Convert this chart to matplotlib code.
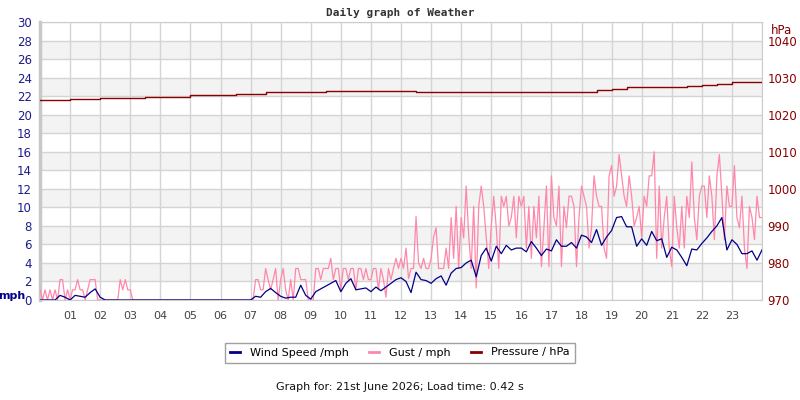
"""Daily weather graph: wind speed, gust and pressure over one day."""
import matplotlib

matplotlib.use("Agg")
import matplotlib.pyplot as plt
import numpy as np
from matplotlib.lines import Line2D

# wind sampled every 10 minutes, 00:00 .. 24:00 (145 values)
WIND_MPH = [
    0.0, 0.0, 0.0, 0.0, 0.5, 0.3,
    0.0, 0.5, 0.4, 0.3, 0.8, 1.2,
    0.3, 0.0, 0.0, 0.0, 0.0, 0.0,
    0.0, 0.0, 0.0, 0.0, 0.0, 0.0,
    0.0, 0.0, 0.0, 0.0, 0.0, 0.0,
    0.0, 0.0, 0.0, 0.0, 0.0, 0.0,
    0.0, 0.0, 0.0, 0.0, 0.0, 0.0,
    0.0, 0.4, 0.3, 0.9, 1.25, 0.8,
    0.4, 0.2, 0.3, 0.3, 1.6, 0.5,
    0.1, 0.9, 1.2, 1.5, 1.8, 2.1,
    0.9, 1.8, 2.3, 1.1, 1.2, 1.3,
    0.9, 1.4, 1.0, 1.4, 1.8, 2.2,
    2.4, 2.0, 0.8, 3.0, 2.2, 2.1,
    1.8, 2.3, 2.6, 1.6, 2.9, 3.4,
    3.5, 4.0, 4.3, 2.5, 4.8, 5.6,
    4.2, 5.8, 5.0, 5.9, 5.4, 5.6,
    5.6, 5.2, 6.3, 5.6, 4.8, 5.5,
    5.3, 6.5, 5.8, 5.8, 6.2, 5.6,
    7.0, 6.8, 6.2, 7.6, 5.9, 6.8,
    7.5, 8.9, 9.0, 7.9, 7.9, 5.8,
    6.6, 5.9, 7.4, 6.4, 6.6, 4.6,
    5.7, 5.4, 4.6, 3.7, 5.5, 5.4,
    6.1, 6.7, 7.4, 8.0, 8.9, 5.4,
    6.5, 6.0, 5.0, 5.0, 5.3, 4.3,
    5.4,
]

# gust sampled every 5 minutes, 00:00 .. 24:00 (289 values)
GUST_MPH = [
    1.1, 0.0, 1.1, 0.0, 1.1, 0.0, 1.1, 0.0, 2.2, 2.2, 0.0, 1.1,
    0.0, 1.1, 1.1, 2.2, 1.1, 1.1, 0.0, 1.1, 2.2, 2.2, 2.2, 0.0,
    0.0, 0.0, 0.0, 0.0, 0.0, 0.0, 0.0, 0.0, 2.2, 1.1, 2.2, 1.1,
    1.1, 0.0, 0.0, 0.0, 0.0, 0.0, 0.0, 0.0, 0.0, 0.0, 0.0, 0.0,
    0.0, 0.0, 0.0, 0.0, 0.0, 0.0, 0.0, 0.0, 0.0, 0.0, 0.0, 0.0,
    0.0, 0.0, 0.0, 0.0, 0.0, 0.0, 0.0, 0.0, 0.0, 0.0, 0.0, 0.0,
    0.0, 0.0, 0.0, 0.0, 0.0, 0.0, 0.0, 0.0, 0.0, 0.0, 0.0, 0.0,
    0.0, 0.0, 2.2, 2.2, 1.1, 1.1, 3.4, 2.2, 1.1, 2.2, 3.4, 0.0,
    2.2, 3.4, 1.1, 0.0, 2.2, 0.0, 3.4, 3.4, 2.2, 2.2, 2.2, 0.0,
    0.0, 0.0, 3.4, 3.4, 2.2, 3.4, 3.4, 3.4, 4.5, 2.2, 3.4, 3.4,
    1.1, 3.4, 3.4, 2.2, 3.4, 3.4, 1.1, 3.4, 3.4, 2.2, 3.4, 2.2,
    2.2, 3.4, 3.4, 1.1, 3.4, 2.2, 0.3, 3.4, 2.2, 3.4, 4.5, 3.4,
    4.5, 3.4, 5.6, 2.3, 3.4, 3.4, 9.0, 4.0, 3.4, 4.5, 3.4, 3.4,
    4.5, 6.8, 7.8, 3.4, 3.4, 3.4, 5.6, 3.4, 8.9, 4.5, 10.1, 3.4,
    8.9, 6.7, 12.3, 7.0, 3.4, 10.1, 1.3, 10.1, 12.3, 10.1, 6.7, 3.4,
    8.0, 11.2, 7.8, 3.4, 11.2, 10.1, 11.2, 8.0, 8.9, 11.2, 6.7, 11.2,
    10.1, 11.2, 5.6, 10.1, 4.5, 10.1, 6.7, 11.2, 3.6, 7.8, 12.3, 3.6,
    13.4, 8.9, 8.0, 12.3, 3.6, 10.1, 7.8, 11.2, 11.2, 10.1, 3.6, 8.9,
    12.3, 11.2, 10.1, 5.6, 7.8, 13.4, 11.2, 10.1, 10.1, 5.6, 4.5, 13.4,
    14.5, 11.2, 12.3, 15.7, 13.4, 11.2, 10.1, 13.4, 11.2, 8.0, 8.9, 10.1,
    6.8, 11.2, 10.1, 13.4, 13.4, 16.0, 4.5, 12.3, 5.6, 8.9, 11.2, 5.6,
    3.6, 11.2, 7.8, 5.6, 10.1, 5.6, 11.2, 8.9, 14.9, 8.9, 6.5, 11.2,
    12.3, 12.3, 8.9, 13.4, 11.2, 6.5, 13.4, 15.7, 11.2, 6.5, 12.3, 10.1,
    10.1, 14.5, 8.9, 7.8, 11.2, 5.6, 3.4, 10.1, 8.9, 6.5, 11.2, 8.9,
    8.9,
]

# pressure sampled every 30 minutes (49 values)
PRESSURE_HPA = [
    1023.9, 1023.9, 1024.2, 1024.1, 1024.4, 1024.4,
    1024.4, 1024.7, 1024.7, 1024.9, 1025.2, 1025.2,
    1025.4, 1025.7, 1025.7, 1026.0, 1026.0, 1026.0,
    1026.0, 1026.4, 1026.4, 1026.4, 1026.4, 1026.4,
    1026.4, 1026.2, 1026.2, 1026.2, 1026.2, 1026.2,
    1026.2, 1026.2, 1026.2, 1026.2, 1026.2, 1026.2,
    1026.2, 1026.6, 1026.9, 1027.4, 1027.4, 1027.4,
    1027.4, 1027.6, 1028.1, 1028.4, 1028.8, 1028.8,
    1028.8,
]

HOUR_LABELS = [f"{h:02d}" for h in range(1, 24)]
TITLE = "Daily graph of Weather"
FOOTER = "Graph for: 21st June 2026; Load time: 0.42 s"

WIND_COLOR = "#000088"
GUST_COLOR = "#ff88aa"
PRESS_COLOR = "#880000"
LEFT_TICK_COLOR = "#1c1c8c"


def main() -> None:
    wind_t = np.linspace(0, 24, len(WIND_MPH))
    gust_t = np.linspace(0, 24, len(GUST_MPH))
    press_t = np.linspace(0, 24, len(PRESSURE_HPA))

    fig = plt.figure(figsize=(8, 4), dpi=100)
    ax = fig.add_axes([0.05, 0.25, 0.9025, 0.695])
    ax2 = ax.twinx()

    # alternating bands
    for lo in range(2, 30, 4):
        ax.axhspan(lo, lo + 2, color="#f3f3f3", zorder=0, lw=0)
    ax.set_xlim(0, 24)
    ax.set_ylim(0, 30)
    ax.set_xticks(range(1, 24))
    ax.set_xticklabels(HOUR_LABELS)
    ax.set_xticks(range(0, 25), minor=True)
    ax.set_yticks(range(0, 31, 2))
    ax.grid(True, which="both", color="#d4d4d4", lw=1, zorder=1)
    ax.tick_params(axis="x", which="both", length=0, labelsize=8, colors="#444444", pad=8)
    ax.tick_params(axis="y", length=0, labelsize=8.5, colors=LEFT_TICK_COLOR, pad=6)
    for s in ["top", "right", "bottom"]:
        ax.spines[s].set_color("#cccccc")
    ax.spines["left"].set_color("#c8c8c8")
    ax.spines["left"].set_linewidth(2.5)

    ax.plot(gust_t, GUST_MPH, color=GUST_COLOR, lw=0.9, zorder=3)
    ax.plot(wind_t, WIND_MPH, color=WIND_COLOR, lw=0.9, zorder=4)

    ax2.set_ylim(970, 1045)
    ax2.set_yticks(range(970, 1041, 10))
    ax2.tick_params(axis="y", length=0, labelsize=8.5, colors=PRESS_COLOR, pad=4)
    for s in ax2.spines.values():
        s.set_visible(False)
    ax2.plot(press_t, PRESSURE_HPA, color=PRESS_COLOR, lw=1.0, drawstyle="steps-post", zorder=5)

    fig.text(0.5, 1 - 13 / 400, TITLE, ha="center", va="center",
             family="DejaVu Sans Mono", weight="bold", fontsize=8, color="#333333")
    fig.text(12 / 800, 1 - 296 / 400, "mph", ha="center", va="center",
             weight="bold", fontsize=8, color=WIND_COLOR)
    fig.text(782 / 800, 1 - 30 / 400, "hPa", ha="center", va="center",
             fontsize=8.5, color=PRESS_COLOR)

    handles = [
        Line2D([], [], color=WIND_COLOR, lw=2),
        Line2D([], [], color=GUST_COLOR, lw=2),
        Line2D([], [], color=PRESS_COLOR, lw=2),
    ]
    labels = ["Wind Speed /mph", "Gust / mph", "Pressure / hPa"]
    leg = fig.legend(handles, labels, loc="center", bbox_to_anchor=(0.5, 1 - 352.5 / 400),
                     ncol=3, fontsize=8, frameon=True, fancybox=False, handlelength=0.9,
                     columnspacing=1.8, handletextpad=0.9, borderpad=0.45)
    leg.get_frame().set_edgecolor("#888888")
    leg.get_frame().set_linewidth(1)

    fig.text(0.5, 1 - 387 / 400, FOOTER, ha="center", va="center", fontsize=8, color="#111111")

    fig.savefig("out.png", dpi=100)
    plt.close(fig)


if __name__ == "__main__":
    main()
